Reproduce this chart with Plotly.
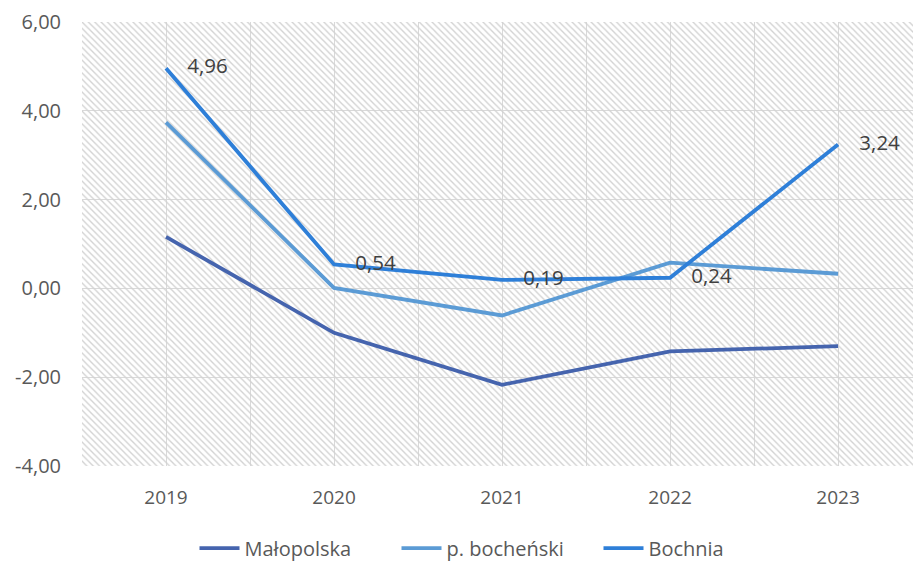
import plotly.graph_objects as go

years = ["2019", "2020", "2021", "2022", "2023"]
malopolska = [1.16, -1.00, -2.17, -1.42, -1.30]
bochenski = [3.74, 0.01, -0.61, 0.58, 0.33]
bochnia = [4.96, 0.54, 0.19, 0.24, 3.24]
y_tick_vals = [-4, -2, 0, 2, 4, 6]
y_tick_text = ["-4,00", "-2,00", "0,00", "2,00", "4,00", "6,00"]

x_idx = list(range(len(years)))
font_family = "'Open Sans', sans-serif"
x_range = [-0.5, 4.446]
y_range = [-4, 6]

fig = go.Figure()

# hatched plot background (decorative), spans the whole axis range
fig.add_trace(go.Bar(
    x=[(x_range[0] + x_range[1]) / 2], y=[y_range[1] - y_range[0]],
    width=[x_range[1] - x_range[0]], base=[y_range[0]],
    marker=dict(color="rgba(0,0,0,0)", line=dict(width=0),
                pattern=dict(shape="\\", fgcolor="#d2d2d2", bgcolor="rgba(0,0,0,0)",
                             size=4.5, solidity=0.3, fillmode="replace")),
    showlegend=False, hoverinfo="skip",
))

fig.add_trace(go.Scatter(x=x_idx, y=malopolska, name="Małopolska", mode="lines",
                         line=dict(color="#4564AE", width=3.8)))
fig.add_trace(go.Scatter(x=x_idx, y=bochenski, name="p. bocheński", mode="lines",
                         line=dict(color="#5B9BD5", width=3.8)))
fig.add_trace(go.Scatter(x=x_idx, y=bochnia, name="Bochnia", mode="lines+text",
                         line=dict(color="#2E7FD8", width=3.8),
                         texttemplate="    %{y:.2f}",
                         textposition="middle right",
                         textfont=dict(family=font_family, size=20.5, color="#404040")))

fig.update_layout(
    width=913, height=564,
    margin=dict(l=82, r=0, t=22, b=98, autoexpand=False),
    paper_bgcolor="white", plot_bgcolor="white",
    separators=", ",
    bargap=0,
    font=dict(family=font_family, size=20, color="#595959"),
    xaxis=dict(
        range=x_range, tickvals=x_idx, ticktext=years,
        showgrid=True, gridcolor="#d9d9d9", gridwidth=1,
        minor=dict(tickvals=[-0.5, 0.5, 1.5, 2.5, 3.5], showgrid=True,
                   gridcolor="#d9d9d9", gridwidth=1, ticks=""),
        zeroline=False, showline=False, ticks="", ticklabelstandoff=18,
        tickfont=dict(size=19, color="#595959"),
    ),
    yaxis=dict(
        range=y_range, tickvals=y_tick_vals, ticktext=y_tick_text,
        showgrid=True, gridcolor="#d9d9d9", gridwidth=1,
        zeroline=False, showline=False, ticks="", ticklabelstandoff=20,
        tickfont=dict(size=20, color="#595959"),
    ),
    legend=dict(orientation="h", x=0.5, xanchor="center", y=-0.185, yanchor="middle",
                font=dict(size=20, color="#595959"), itemwidth=40,
                entrywidth=147, entrywidthmode="pixels", traceorder="normal"),
    showlegend=True,
)

fig.write_html("out.html", config={"displayModeBar": False},
               post_script="document.body.style.margin='0';")
